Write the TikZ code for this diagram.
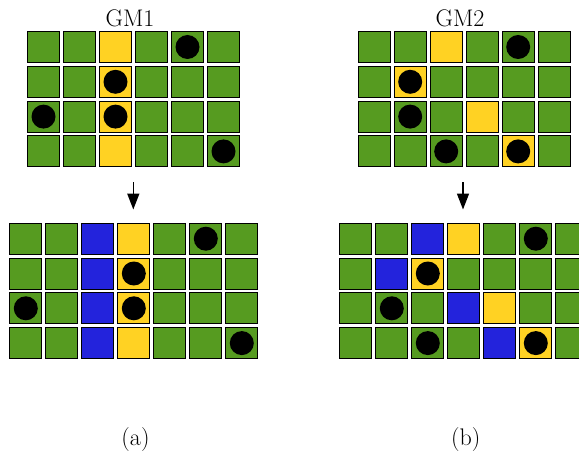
\documentclass[tikz,border=0pt]{standalone}
\usetikzlibrary{arrows.meta}
\definecolor{cg}{RGB}{86,155,32}
\definecolor{cy}{RGB}{255,210,35}
\definecolor{cb}{RGB}{35,35,220}
\newcommand\mygrid[4]{%
  \foreach \r/\cells in {#4} {
    \foreach \k [count=\c from 0] in \cells {
      \node[cell, fill=\k] (#1-\r-\c) at ({#2+16.5+36*\c},{#3+16+34.8*\r}) {};
    }
  }%
}
\begin{document}
\begin{tikzpicture}[x=1pt,y=-1pt,
  cell/.style={draw=black, line width=0.9pt, minimum width=32pt, minimum height=31pt, inner sep=0pt, outer sep=0pt},
  stone/.style={circle, fill=black, minimum size=24pt, inner sep=0pt},
  lbl/.style={font=\fontsize{24}{28}\selectfont, inner sep=0pt, anchor=base},
  flow/.style={line width=1.6pt, -{Triangle[length=16pt,width=12pt]}}]
\useasboundingbox (0,0) rectangle (579,452);

% top (a)
\mygrid{ta}{27}{31}{0/{cg,cg,cy,cg,cg,cg},1/{cg,cg,cy,cg,cg,cg},2/{cg,cg,cy,cg,cg,cg},3/{cg,cg,cy,cg,cg,cg}}
\foreach \r/\c in {0/4,1/2,2/0,2/2,3/5} \node[stone] (ta-s\r\c) at (ta-\r-\c) {};

% bottom (a)
\mygrid{ba}{9.3}{222.7}{0/{cg,cg,cb,cy,cg,cg,cg},1/{cg,cg,cb,cy,cg,cg,cg},2/{cg,cg,cb,cy,cg,cg,cg},3/{cg,cg,cb,cy,cg,cg,cg}}
\foreach \r/\c in {0/5,1/3,2/0,2/3,3/6} \node[stone] (ba-s\r\c) at (ba-\r-\c) {};

% top (b)
\mygrid{tb}{357.7}{31}{0/{cg,cg,cy,cg,cg,cg},1/{cg,cy,cg,cg,cg,cg},2/{cg,cg,cg,cy,cg,cg},3/{cg,cg,cg,cg,cy,cg}}
\foreach \r/\c in {0/4,1/1,2/1,3/2,3/4} \node[stone] (tb-s\r\c) at (tb-\r-\c) {};

% bottom (b)
\mygrid{bb}{339.3}{222.7}{0/{cg,cg,cb,cy,cg,cg,cg},1/{cg,cb,cy,cg,cg,cg,cg},2/{cg,cg,cg,cb,cy,cg,cg},3/{cg,cg,cg,cg,cb,cy,cg}}
\foreach \r/\c in {0/5,1/2,2/1,3/2,3/5} \node[stone] (bb-s\r\c) at (bb-\r-\c) {};

% titles and captions
\node[lbl] (gm1) at (130,27) {GM1};
\node[lbl] (gm2) at (460,27) {GM2};
\node[lbl] (capa) at (135.5,445) {(a)};
\node[lbl] (capb) at (465.8,445) {(b)};

% arrows
\coordinate (a1) at (133.3,182);
\coordinate (a2) at (133.3,209.5);
\coordinate (b1) at (463,182);
\coordinate (b2) at (463,209.5);
\draw[flow] (a1) -- (a2);
\draw[flow] (b1) -- (b2);
\end{tikzpicture}
\end{document}
